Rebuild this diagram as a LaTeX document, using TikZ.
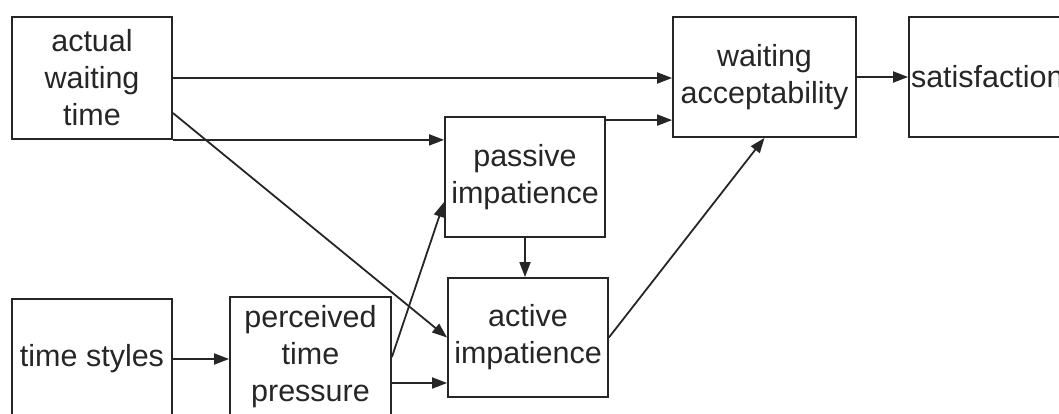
\documentclass[tikz,border=0pt]{standalone}
\usepackage{fontspec}
\setmainfont{Liberation Sans}
\usetikzlibrary{arrows.meta}
\usetikzlibrary{calc,positioning}

\tikzset{
	caja/.style={draw=black!85, line width=1.8pt, minimum width=160pt, minimum height=120pt,
		inner sep=0pt, align=center, font=\fontsize{30.5}{37}\selectfont, text=black!85},
	flecha/.style={draw=black!85, line width=1.8pt, -{Triangle[length=15pt,width=11pt]}}
}

\begin{document}
\begin{tikzpicture}[x=1pt, y=-1pt]
	\useasboundingbox (0,0) rectangle (1059,414);
	\clip (0,0) rectangle (1059,414);

% cajas
	\node[caja, minimum height=122pt] (actual) at (92,78) {actual\\waiting\\time};
	\node[caja, minimum width=183pt] (accept) at (764.5,77) {waiting\\acceptability};
	\node[caja, text width=156pt, align=left, inner xsep=2pt] (satisf) at (989,77) {satisfaction};
	\node[caja] (passive) at (525,177) {passive\\impatience};
	\node[caja, minimum height=119pt] (active) at (528,337.5) {active\\impatience};
	\node[caja] (timest) at (92,359) {time styles};
	\node[caja, minimum width=161pt] (perceived) at (310.5,357) {perceived\\time\\pressure};

% puntos de salida
	\coordinate (pasout) at ($(passive.north east)+(0,4)$);
	\coordinate (actout) at ($(actual.east)+(0,35)$);
	\coordinate (perout) at ($(perceived.east)+(0,26)$);
	\coordinate (pasin) at ($(passive.west)+(0,25)$);

% flechas
	\draw[flecha] (actual.east) -- (actual.east -| accept.west);
	\draw[flecha] (actual.south east) -- (actual.south east -| passive.west);
	\draw[flecha] (pasout) -- (pasout -| accept.west);
	\draw[flecha] (actout) -- (active.west);
	\draw[flecha] (timest.east) -- (timest.east -| perceived.west);
	\draw[flecha] (perceived.east) -- (pasin);
	\draw[flecha] (perout) -- (perout -| active.west);
	\draw[flecha] (passive.south) -- (passive.south |- active.north);
	\draw[flecha] (active.east) -- (accept.south);
	\draw[flecha] (accept.east) -- (satisf.west);
\end{tikzpicture}
\end{document}
